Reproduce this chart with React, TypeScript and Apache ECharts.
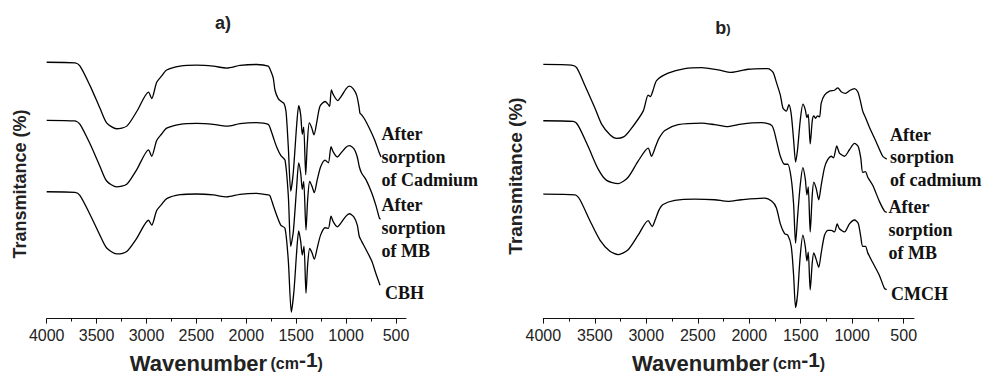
import React, { useEffect, useRef } from "react";
import * as echarts from "echarts";

// FTIR spectra, [wavenumber (cm-1), transmittance (offset, a.u.)]
const cbhCadmium: number[][] = [
  [4000, 263.3], [3716, 262.7], [3666, 259.3], [3566, 239.3], [3466, 216], [3399, 201], [3299, 195],
  [3198, 197.7], [3098, 212.7], [2980, 232.7], [2948, 226], [2898, 242.7], [2848, 249.3], [2798, 255.3],
  [2664, 259.3], [2497, 260.3], [2331, 259.3], [2196, 257.3], [2063, 260], [1896, 261], [1780, 259.3],
  [1762, 256], [1730, 247], [1712, 234.3], [1680, 226], [1645, 222.7], [1622, 221], [1602, 212.7],
  [1579, 176], [1555, 131], [1530, 149.3], [1495, 199.3], [1475, 218.7], [1455, 209.3], [1439, 189.3],
  [1425, 196.7], [1405, 147.7], [1389, 179.3], [1369, 201], [1345, 196], [1322, 188.7], [1295, 201],
  [1262, 218], [1211, 223], [1180, 220], [1165, 218], [1148, 235], [1128, 230], [1085, 224], [1044, 229],
  [1001, 236], [968, 238.7], [928, 236], [894, 229.3], [871, 217.7], [861, 211], [844, 209.3], [811, 204.3],
  [761, 194.3], [711, 182.7], [667, 170], [650, 166],
];
const cbhMB: number[][] = [
  [4000, 203.7], [3716, 203], [3666, 199.6], [3566, 179.6], [3466, 156.3], [3399, 141.3], [3299, 135.3],
  [3198, 138], [3098, 153], [2980, 173.3], [2948, 166.7], [2898, 183], [2848, 189.6], [2798, 195.6],
  [2664, 199.6], [2497, 200.6], [2331, 199.6], [2196, 197.6], [2063, 200.3], [1896, 201.3], [1780, 199.6],
  [1762, 196], [1729, 186], [1695, 176], [1655, 167.7], [1612, 162.7], [1579, 126], [1555, 74.3],
  [1529, 89.3], [1495, 136], [1475, 160], [1455, 149.3], [1439, 132.7], [1425, 141], [1402, 91],
  [1385, 122.7], [1365, 141], [1342, 136], [1319, 129.3], [1289, 142.7], [1255, 156], [1211, 162.7],
  [1178, 160], [1151, 176.7], [1128, 171], [1088, 166], [1044, 171], [1001, 176], [968, 177.7],
  [921, 174.3], [888, 166], [868, 156], [844, 149.3], [801, 142.7], [744, 129.3], [701, 116], [667, 103.3],
  [655, 102],
];
const cbh: number[][] = [
  [4000, 130.3], [3716, 129.7], [3666, 126.3], [3566, 107], [3466, 85.5], [3399, 72.5], [3299, 66.5],
  [3198, 69], [3098, 82.5], [2980, 101], [2948, 96], [2898, 111], [2848, 117.3], [2798, 123.3],
  [2664, 127.3], [2497, 128], [2331, 127], [2196, 125], [2063, 127.7], [1896, 128.7], [1780, 127],
  [1762, 126], [1729, 116], [1695, 106], [1655, 96], [1612, 92.7], [1579, 59.3], [1549, 6.7],
  [1522, 29.3], [1495, 69.3], [1475, 90], [1455, 79.3], [1439, 65.3], [1422, 74.3], [1402, 26],
  [1385, 56], [1365, 72], [1342, 67.7], [1319, 61], [1289, 72.7], [1255, 86], [1211, 93.3],
  [1178, 92.7], [1151, 105.3], [1128, 99.3], [1088, 94.3], [1044, 99.3], [1001, 105.3], [968, 107.7],
  [921, 104.3], [888, 96], [868, 84.3], [844, 79.3], [801, 71], [744, 59.3], [701, 46], [660, 34.3],
];

const cmchCadmium: number[][] = [
  [4000, 263], [3725, 262.3], [3676, 259.7], [3596, 241.3], [3499, 218], [3434, 201.3], [3350, 190],
  [3288, 186.5], [3220, 188], [3159, 194.7], [3030, 214.7], [2982, 231.3], [2960, 229.7], [2934, 236.3],
  [2900, 246.3], [2788, 254], [2626, 258.7], [2464, 259.7], [2303, 257.3], [2174, 254.7], [2012, 258],
  [1819, 258.7], [1770, 255], [1737, 244.7], [1698, 231.3], [1673, 218], [1640, 214.7], [1615, 221.3],
  [1592, 211.3], [1569, 184.7], [1550, 162], [1531, 174.7], [1505, 204.7], [1479, 222], [1456, 216.3],
  [1440, 208], [1427, 211.3], [1408, 180.7], [1388, 204.7], [1373, 209.7], [1356, 207.3], [1337, 209.7],
  [1317, 208.7], [1301, 223], [1269, 231.3], [1220, 235.3], [1172, 236.3], [1140, 238.7], [1107, 234.7],
  [1065, 233], [1020, 236.3], [978, 238], [946, 234.7], [923, 226.3], [898, 214.7], [871, 208],
  [833, 198], [768, 183], [704, 168], [665, 165],
];
const cmchMB: number[][] = [
  [4000, 204.7], [3709, 204], [3661, 199.7], [3564, 178], [3467, 154.7], [3385, 143], [3273, 139.7],
  [3176, 146.3], [3079, 163], [2982, 176.3], [2949, 168], [2910, 178], [2878, 186.3], [2820, 194.7],
  [2691, 200.7], [2464, 202.3], [2335, 200.7], [2206, 198.7], [2077, 201.3], [1883, 202.7], [1780, 199.7],
  [1737, 184.7], [1698, 168], [1657, 159.7], [1625, 159.7], [1592, 144.7], [1569, 118], [1550, 78],
  [1531, 104.7], [1505, 138], [1479, 156.3], [1456, 144.7], [1440, 128], [1427, 136.3], [1408, 89.7],
  [1388, 128], [1373, 141.3], [1350, 134.7], [1325, 123], [1301, 138], [1269, 156.3], [1237, 164.7],
  [1204, 168], [1182, 166.3], [1150, 178.7], [1124, 171.3], [1075, 168], [1027, 174.7], [978, 181.3],
  [942, 178], [917, 166.3], [898, 151.3], [871, 152], [849, 146.3], [801, 138], [736, 121.3],
  [687, 111.3], [665, 110],
];
const cmch: number[][] = [
  [4000, 128.7], [3693, 128], [3644, 123], [3547, 101.3], [3450, 81.3], [3353, 69.7], [3273, 66.3],
  [3176, 71.3], [3079, 86.3], [2982, 101.3], [2943, 95.3], [2910, 103], [2878, 112], [2837, 118],
  [2723, 122.3], [2529, 123.7], [2335, 123], [2206, 121.3], [2077, 123], [1851, 124.7], [1780, 121.3],
  [1737, 114.7], [1698, 98], [1657, 88], [1625, 86.3], [1592, 74.7], [1569, 44.7], [1550, 11.3],
  [1531, 24.7], [1505, 64.7], [1479, 86.3], [1456, 74.7], [1440, 59.7], [1427, 68.7], [1408, 29.7],
  [1388, 58], [1373, 68], [1350, 61.3], [1325, 53], [1301, 68], [1269, 86.3], [1237, 91.3],
  [1204, 91.3], [1172, 89.7], [1146, 98], [1124, 93], [1075, 89.7], [1027, 98], [978, 102],
  [942, 98.7], [917, 84.7], [898, 74.7], [871, 74.7], [849, 68], [801, 58], [736, 44.7],
  [687, 31.3], [665, 30],
];

const majorTicks = [4000, 3500, 3000, 2500, 2000, 1500, 1000, 500];
const minorTicks = [3750, 3250, 2750, 2250, 1750, 1250, 750];

const SANS = "Liberation Sans, Arial, sans-serif";
const SERIF = "Liberation Serif, Times New Roman, serif";

function xAxes(gridIndex: number) {
  const base = {
    type: "value",
    gridIndex,
    position: "bottom",
    min: 400,
    max: 4000,
    inverse: true,
    splitLine: { show: false },
  };
  return [
    {
      ...base,
      axisLine: { lineStyle: { color: "#111", width: 1 } },
      axisTick: { customValues: majorTicks, length: 5, lineStyle: { color: "#111" } },
      axisLabel: {
        customValues: majorTicks,
        margin: 9,
        fontSize: 16,
        color: "#222",
        fontFamily: SANS,
        formatter: (v: number) => String(v),
      },
      name: "{w|Wavenumber} {s|(cm}{sup|-1}{s|)}",
      nameLocation: "middle",
      nameGap: 29,
      nameTextStyle: {
        rich: {
          w: { fontSize: 22, fontWeight: "bold", fontFamily: SANS, color: "#222" },
          s: { fontSize: 16, fontWeight: "bold", fontFamily: SANS, color: "#222" },
          sup: { fontSize: 21, fontWeight: "bold", fontFamily: SANS, color: "#222", padding: [0, 0, 8, 0] },
        },
      },
    },
    {
      ...base,
      axisLine: { show: false },
      axisTick: { customValues: minorTicks, length: 3, lineStyle: { color: "#111" } },
      axisLabel: { show: false },
    },
  ];
}

function trace(name: string, data: number[][], axis: number) {
  return {
    name,
    type: "line",
    xAxisIndex: axis * 2,
    yAxisIndex: axis,
    data,
    showSymbol: false,
    smooth: 0.25,
    lineStyle: { color: "#000", width: 1.3 },
    emphasis: { disabled: true },
  };
}

function label(text: string, x: number, y: number, lineHeight = 23) {
  return {
    type: "text",
    x,
    y,
    style: {
      text,
      fontFamily: SERIF,
      fontWeight: "bold",
      fontSize: 18,
      lineHeight,
      fill: "#111",
      textVerticalAlign: "top",
    },
  };
}

function yName(x: number, y: number, fontSize: number) {
  return {
    type: "text",
    x,
    y,
    rotation: Math.PI / 2,
    style: {
      text: "Transmitance (%)",
      fontFamily: SANS,
      fontWeight: "bold",
      fontSize,
      fill: "#222",
      textAlign: "center",
      textVerticalAlign: "middle",
    },
  };
}

export default function App() {
  const ref = useRef<HTMLDivElement>(null);

  useEffect(() => {
    document.body.style.margin = "0";
    const chart = echarts.init(ref.current!, undefined, { renderer: "svg" });
    chart.setOption({
      animation: false,
      backgroundColor: "#fff",
      grid: [
        { left: 46.7, right: 581, top: 46, bottom: 53 },
        { left: 543.3, right: 73, top: 48, bottom: 51 },
      ],
      xAxis: [...xAxes(0), ...xAxes(1)],
      yAxis: [
        { type: "value", gridIndex: 0, min: 0, max: 280, show: false },
        { type: "value", gridIndex: 1, min: 0, max: 280, show: false },
      ],
      series: [
        trace("After sorption of Cadmium", cbhCadmium, 0),
        trace("After sorption of MB", cbhMB, 0),
        trace("CBH", cbh, 0),
        trace("After sorption of cadmium", cmchCadmium, 1),
        trace("After sorption of MB", cmchMB, 1),
        trace("CMCH", cmch, 1),
      ],
      graphic: [
        {
          type: "text",
          x: 223,
          y: 23,
          style: {
            text: "a)",
            fontFamily: SANS,
            fontWeight: "bold",
            fontSize: 18,
            fill: "#222",
            textAlign: "center",
            textVerticalAlign: "middle",
          },
        },
        {
          type: "text",
          x: 723,
          y: 28,
          style: {
            text: "{b|b}{p|)}",
            textAlign: "center",
            textVerticalAlign: "middle",
            rich: {
              b: { fontFamily: SANS, fontWeight: "bold", fontSize: 18, fill: "#222" },
              p: { fontFamily: SANS, fontWeight: "bold", fontSize: 13, fill: "#222" },
            },
          },
        },
        yName(20, 184, 18),
        yName(515, 176, 19),
        label("After\nsorption\nof Cadmium", 381.5, 122.5),
        label("After\nsorption\nof MB", 381.5, 193.5),
        label("CBH", 385, 281.5),
        label("After\nsorption\nof cadmium", 890, 123.5, 22.5),
        label("After\nsorption\nof MB", 888.5, 195.5),
        label("CMCH", 891, 282),
      ],
    });
    return () => chart.dispose();
  }, []);

  return <div ref={ref} style={{ position: "fixed", left: 0, top: 0, width: 987, height: 379 }} />;
}
